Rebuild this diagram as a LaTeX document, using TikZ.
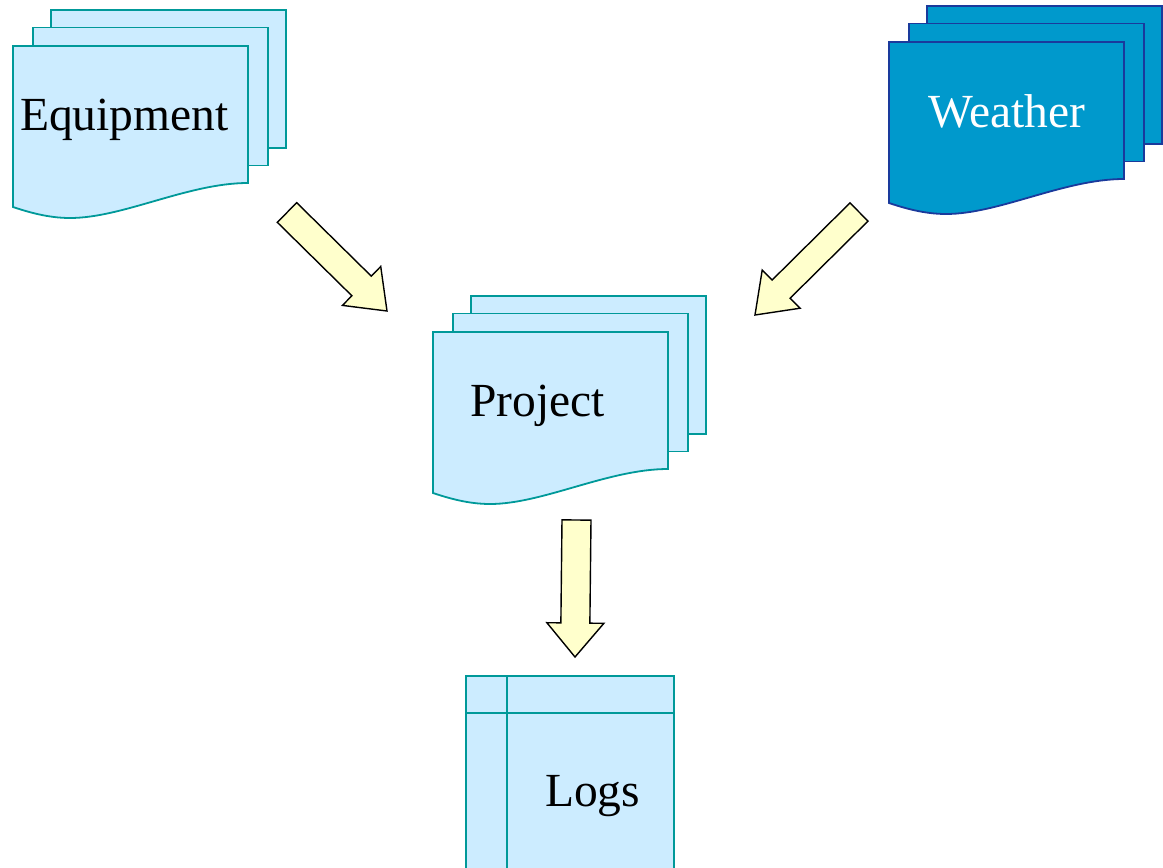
\documentclass[tikz,border=0pt]{standalone}
\usepackage{fontspec}
\setmainfont{Liberation Serif}
\usetikzlibrary{calc}

\definecolor{sheetfill}{HTML}{CCECFF}
\definecolor{sheetline}{HTML}{009999}
\definecolor{darkfill}{HTML}{0099CC}
\definecolor{darkline}{HTML}{1A3A9C}
\definecolor{arrowfill}{HTML}{FFFFCC}

\tikzset{
  lightsheet/.style={fill=sheetfill, draw=sheetline, line width=1.8pt, line join=miter},
  darksheet/.style={fill=darkfill, draw=darkline, line width=1.8pt, line join=miter},
  blockarrowstyle/.style={fill=arrowfill, draw=black, line width=1.4pt, line join=miter},
  caption/.style={anchor=base west, inner sep=0pt, font=\fontsize{47.5}{57}\selectfont},
}

% plain sheet behind a stack: top-left corner at (#2,#3)
\newcommand\backsheet[3]{%
  \draw[#1] (#2,#3) rectangle ++(235,138);}

% front sheet of a stack with the wavy lower edge
\newcommand\frontsheet[3]{%
  \begin{scope}[shift={(#2,#3)}]
    \draw[#1] (0,0) -- (235,0) -- (235,137)
      .. controls (175,137) and (110,172) .. (57,172)
      .. controls (35,172) and (15,166) .. (0,161) -- cycle;
  \end{scope}}

% three stacked sheets, front sheet top-left at (#2,#3)
\newcommand\sheetstack[3]{%
  \backsheet{#1}{#2+38}{#3-36}%
  \backsheet{#1}{#2+20}{#3-18.5}%
  \frontsheet{#1}{#2}{#3}}

% block arrow: from, to, shaft half width, head half width, head length
\newcommand\blockarrow[5]{%
  \path ($(#2)!#5!(#1)$) coordinate (ba-neck);
  \draw[blockarrowstyle]
    ($(#1)!#3!90:(#2)$) -- ($(ba-neck)!#3!-90:(#1)$)
    -- ($(ba-neck)!#4!-90:(#1)$) -- (#2)
    -- ($(ba-neck)!#4!90:(#1)$) -- ($(ba-neck)!#3!90:(#1)$)
    -- ($(#1)!#3!-90:(#2)$) -- cycle;}

\begin{document}
\begin{tikzpicture}[x=1pt, y=-1pt]
  \useasboundingbox (0,0) rectangle (1163,868);
  \clip (0,0) rectangle (1163,868);

  % document stacks
  \sheetstack{lightsheet}{13}{46}
  \sheetstack{darksheet}{889}{42}
  \sheetstack{lightsheet}{433}{332}

  % log table
  \draw[lightsheet] (466,676) rectangle (674,890);
  \draw[sheetline, line width=1.8pt] (466,713) -- (674,713);
  \draw[sheetline, line width=1.8pt] (507,676) -- (507,890);

  % captions
  \node[caption] (equip) at (20,130) {Equipment};
  \node[caption, text=white] (weather) at (928,127) {Weather};
  \node[caption] (project) at (470,416.5) {Project};
  \node[caption] (logs) at (545,806.5) {Logs};

  % arrow end points
  \coordinate (eq-out) at (287,212.5);
  \coordinate (prj-in-l) at (387,311);
  \coordinate (wx-out) at (859,212);
  \coordinate (prj-in-r) at (755,315);
  \coordinate (prj-out) at (576.5,520);
  \coordinate (logs-in) at (575,657);

  % flow arrows
  \blockarrow{eq-out}{prj-in-l}{13.8pt}{27.3pt}{35.7pt}
  \blockarrow{wx-out}{prj-in-r}{12.8pt}{26.9pt}{36.8pt}
  \blockarrow{prj-out}{logs-in}{14.5pt}{28.5pt}{34pt}
\end{tikzpicture}
\end{document}
